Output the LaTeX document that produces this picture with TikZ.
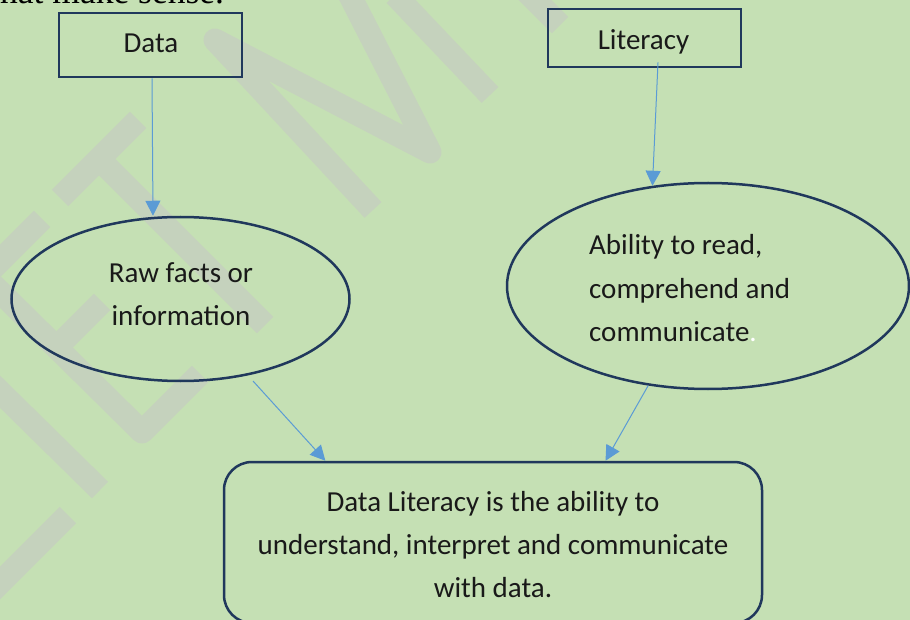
\documentclass[tikz,border=0pt]{standalone}
\usepackage{fontspec}
\setmainfont{Carlito}
\newfontfamily\serifface{Liberation Serif}
\usetikzlibrary{arrows.meta,calc,shapes.geometric}
\definecolor{bg}{RGB}{197,224,180}
\definecolor{wmark}{RGB}{197,210,189}
\definecolor{edgecol}{RGB}{32,56,92}
\definecolor{arrowblue}{RGB}{91,155,213}
\begin{document}
\begin{tikzpicture}[x=1pt,y=-1pt,
  wm/.style={draw=wmark, line width=23pt, line cap=butt, line join=round},
  sqbox/.style={draw=edgecol, line width=2.7pt, rectangle, inner sep=0pt},
  ell/.style={draw=edgecol, line width=2.5pt, ellipse, inner sep=0pt},
  rbox/.style={draw=edgecol, line width=2.5pt, rectangle, rounded corners=28pt, inner sep=0pt,
    minimum width=538pt, minimum height=161pt},
  txt/.style={inner sep=0pt, text=black!90, font=\fontsize{29}{43}\selectfont},
  arr/.style={draw=arrowblue, line width=1pt, -{Triangle[length=15pt,width=15pt]}}]
\useasboundingbox (0,0) rectangle (910,620);
\fill[bg] (0,0) rectangle (910,620);
\clip (0,0) rectangle (910,620);
% watermark strokes
\draw[wm] (-20,372) -- (100,490);
\draw[wm] (68,515) -- (-20,603);
\draw[wm] (42,219) -- (-20,281);
\draw[wm] (-20,272) -- (142,432) -- (200,374);
\draw[wm] (57,347) -- (102,302);
\draw[wm] (60,198) -- (138,120);
\draw[wm] (99,159) -- (265,325);
\draw[wm] (373,210) -- (215,40) -- (430,152) -- (346,-12);
\draw[wm] (395,-5) -- (490,95);
\draw[wm] (522,-13) -- (560,25);
% top text fragment
\node[anchor=base west, inner sep=0pt, font=\serifface\fontsize{35.5}{36}\selectfont] (toptext) at (0,4) {hat make sense.};
% boxes
\node[sqbox, minimum width=183pt, minimum height=64pt] (data) at (150.5,45) {};
\node[sqbox, minimum width=193pt, minimum height=58pt] (lit) at (644.5,38) {};
\node[txt, anchor=base] (datat) at (151,53) {Data};
\node[txt, anchor=base] (litt) at (643.5,50) {Literacy};
% ellipses
\node[ell, minimum width=338pt, minimum height=164pt] (raw) at (180.5,299) {};
\node[ell, minimum width=402pt, minimum height=206pt] (abil) at (708,286) {};
\node[txt, anchor=base, align=center] (rawt) at (181,325) {Raw facts or\\information};
\node[txt, anchor=base west, align=left] (abilt) at (589,341) {Ability to read,\\comprehend and\\communicate\textcolor{white}{.}};
% bottom box
\node[rbox] (bot) at (493,542.5) {};
\node[txt, anchor=base, align=center] (bott) at (493,597) {Data Literacy is the ability to\\understand, interpret and communicate\\with data.};
% connectors
\draw[arr] ($(data.south)+(1.5,0)$) -- ($(raw.north)+(-27.5,0)$);
\draw[arr] ($(lit.south)+(13.5,-6)$) -- (abil.119);
\draw[arr] ($(raw.center)+(72.5,82)$) -- (bot.154.9);
\draw[arr] (abil.239.5) -- (bot.36.7);
\end{tikzpicture}
\end{document}
